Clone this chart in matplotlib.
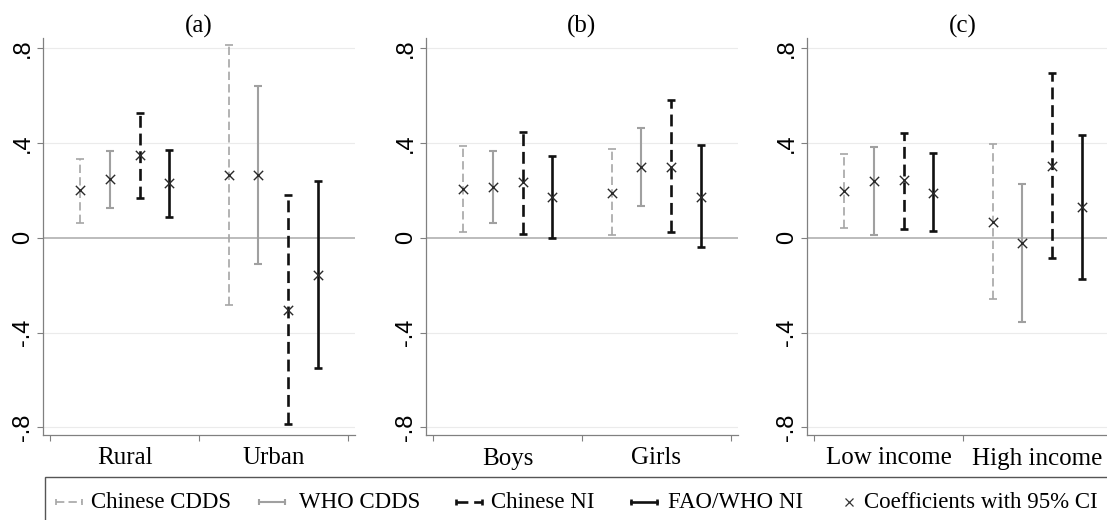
import matplotlib
matplotlib.use('Agg')
import matplotlib.pyplot as plt
from matplotlib.lines import Line2D
from matplotlib.patches import Rectangle

plt.rcParams['font.family'] = ['Liberation Serif', 'DejaVu Serif']

series = ['Chinese CDDS', 'WHO CDDS', 'Chinese NI', 'FAO/WHO NI']
panel_titles = ['(a)', '(b)', '(c)']
groups_a = ['Rural', 'Urban']
groups_b = ['Boys', 'Girls']
groups_c = ['Low income', 'High income']

# rows follow `series`, columns are the two groups of the panel
coef_a = [[0.199, 0.265], [0.246, 0.265], [0.349, -0.306], [0.232, -0.158]]
lo_a = [[0.063, -0.285], [0.127, -0.113], [0.166, -0.785], [0.087, -0.548]]
hi_a = [[0.331, 0.814], [0.366, 0.638], [0.525, 0.180], [0.370, 0.237]]

coef_b = [[0.206, 0.189], [0.213, 0.296], [0.233, 0.296], [0.172, 0.172]]
lo_b = [[0.022, 0.013], [0.064, 0.134], [0.014, 0.025], [0.000, -0.041]]
hi_b = [[0.387, 0.373], [0.364, 0.462], [0.447, 0.579], [0.343, 0.390]]

coef_c = [[0.198, 0.067], [0.240, -0.021], [0.243, 0.303], [0.190, 0.130]]
lo_c = [[0.042, -0.259], [0.010, -0.357], [0.038, -0.084], [0.029, -0.174]]
hi_c = [[0.353, 0.394], [0.384, 0.225], [0.443, 0.694], [0.359, 0.432]]

yticks = [-0.8, -0.4, 0, 0.4, 0.8]
ytick_labels = ['-.8', '-.4', '0', '.4', '.8']

# style per series: colour, line width, dash pattern
styles = [
    ('#a6a6a6', 1.2, (0, (5, 2.5))),
    ('#a0a0a0', 1.5, '-'),
    ('#111111', 1.9, (0, (4.5, 2.2))),
    ('#111111', 1.9, '-'),
]
offsets = [-0.3, -0.1, 0.1, 0.3]

fig = plt.figure(figsize=(11.07, 5.2), dpi=100)
lefts = [43, 426, 807]
W, H = 1107, 520
panels = [
    (groups_a, coef_a, lo_a, hi_a),
    (groups_b, coef_b, lo_b, hi_b),
    (groups_c, coef_c, lo_c, hi_c),
]

for k, (groups, coef, lo, hi) in enumerate(panels):
    ax = fig.add_axes([lefts[k] / W, 1 - 435 / H, 312 / W, 397 / H])
    ax.set_xlim(-0.55, 1.55)
    ax.set_ylim(-0.832, 0.842)
    for y in [-0.8, -0.4, 0.4, 0.8]:
        ax.axhline(y, color='#ebebeb', lw=0.8, zorder=0)
    ax.axhline(0, color='#b0b0b0', lw=1.2, zorder=0)

    for s in range(4):
        col, lw, ls = styles[s]
        xs = [g + offsets[s] for g in range(2)]
        yerr = [[coef[s][g] - lo[s][g] for g in range(2)],
                [hi[s][g] - coef[s][g] for g in range(2)]]
        eb = ax.errorbar(xs, coef[s], yerr=yerr, fmt='none', ecolor=col,
                         elinewidth=lw, capsize=3, capthick=lw, zorder=2)
        eb[2][0].set_linestyle(ls)
        ax.scatter(xs, coef[s], marker='x', s=45, color='#2a2a2a',
                   linewidths=1.0, zorder=3)

    ax.set_yticks(yticks)
    ax.set_yticklabels(ytick_labels, rotation=90, va='center', fontsize=17,
                       family=['Liberation Sans', 'DejaVu Sans'])
    ax.set_xticks([-0.5, 0.5, 1.5])
    ax.set_xticklabels([])
    ax.set_xticks([0, 1], minor=True)
    ax.set_xticklabels(groups, minor=True, fontsize=18)
    ax.tick_params(axis='x', which='minor', length=0, pad=9)
    ax.tick_params(axis='x', which='major', length=4, color='#808080', width=0.8)
    ax.tick_params(axis='y', length=4, color='#808080', width=0.8, pad=2.5)
    for side in ['top', 'right']:
        ax.spines[side].set_visible(False)
    for side in ['left', 'bottom']:
        ax.spines[side].set_color('#808080')
        ax.spines[side].set_linewidth(0.9)
    ax.set_title(panel_titles[k], fontsize=18, pad=4)

# legend box drawn by hand so the entries sit where they do in the original
tf = fig.transFigure
fig.patches.append(Rectangle((45 / W, -0.05), 1.1, 1 - 477 / H + 0.05,
                             transform=tf, fill=False, edgecolor='#555555', lw=1.0))
ly = 1 - 502 / H
handle_x = [56, 259, 456, 631]
text_x = [91, 299, 491, 668]
for s in range(4):
    col, lw, ls = styles[s]
    fig.lines.append(Line2D([handle_x[s] / W, (handle_x[s] + 26) / W], [ly, ly],
                            transform=tf, color=col, lw=lw, linestyle=ls,
                            marker='|', markersize=5, markeredgewidth=lw))
    fig.text(text_x[s] / W, ly, series[s], fontsize=16.5, va='center', ha='left')
fig.lines.append(Line2D([849 / W], [ly], transform=tf, marker='x', markersize=6,
                        markeredgewidth=0.9, color='#333333', linestyle='none'))
fig.text(864 / W, ly, 'Coefficients with 95% CI', fontsize=16.5, va='center', ha='left')

fig.savefig('out.png', dpi=100)
